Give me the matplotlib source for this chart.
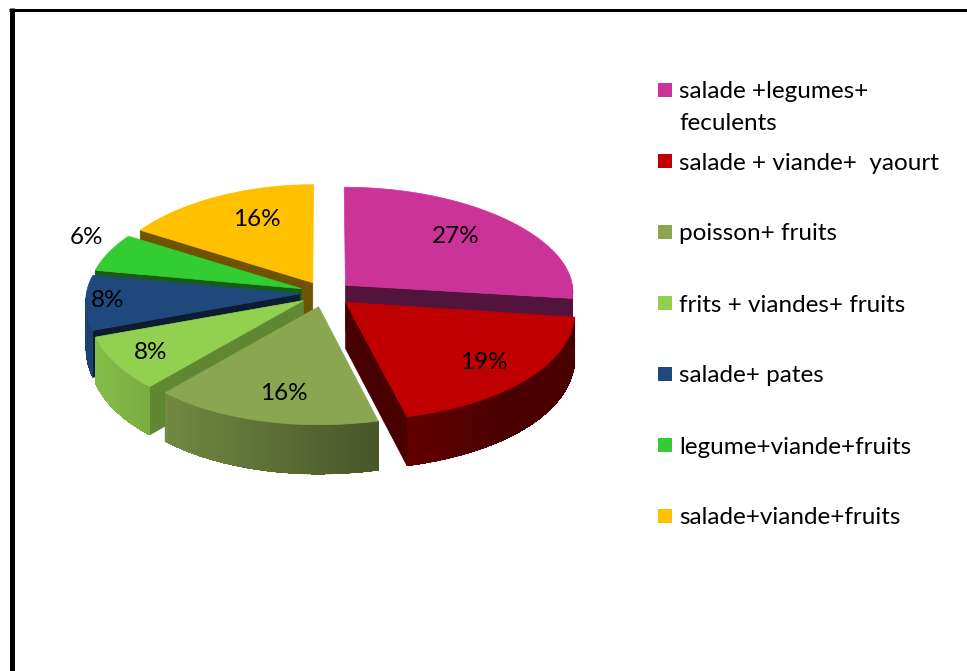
import numpy as np
import matplotlib.pyplot as plt
from matplotlib.patches import Polygon, Rectangle
from matplotlib.colors import to_rgb

# data
labels = ["salade +legumes+\nfeculents", "salade + viande+  yaourt", "poisson+ fruits",
          "frits + viandes+ fruits", "salade+ pates", "legume+viande+fruits",
          "salade+viande+fruits"]
values = [27, 19, 16, 8, 8, 6, 16]
pct_labels = ["27%", "19%", "16%", "8%", "8%", "6%", "16%"]
colors = ["#CC3399", "#C00000", "#8BA650", "#92D050", "#1F497D", "#33CC33", "#FFC000"]

# style / layout of the fake 3D pie (pixel units)
label_r = [0.68, 0.76, 0.72, 0.82, 0.9, 1.15, 0.7]
label_nudge = [(-2, -5), (3, 1), (6, 4), (0, 0), (0, 0), (6, -10), (12, -3)]
face_shade = [0.40, 0.38, 0.45, 0.65, 0.40, 0.45, 0.43]
CX, CY = 325, 293
RX_R, RX_L = 228, 213
RY_B, RY_F = 98, 118
PERSP = 0.06
EXPLODE = 0.12
FONT = "Lato"
FS = 17.5


def proj(X, Y, z=0.0):
    # rough perspective: front of the pie is a bit wider and taller
    X = np.asarray(X, float)
    Y = np.asarray(Y, float)
    rx = np.where(X >= 0, RX_R, RX_L) * (1 - PERSP * Y)
    ry = np.where(Y >= 0, RY_B, RY_F)
    sx = CX + rx * X
    sy = CY - ry * Y + z * (46 - 3 * Y)
    return sx, sy


def shade(c, f):
    return tuple(min(1, v * f) for v in to_rgb(c))


def wall_shade(t):
    return np.clip(0.60 - 0.33 * np.cos(t), 0.38, 0.9)


W, H = 967, 671
fig = plt.figure(figsize=(W / 100, H / 100), dpi=100)
ax = fig.add_axes([0, 0, 1, 1])
ax.set_xlim(0, W)
ax.set_ylim(H, 0)
ax.axis("off")

vals = np.array(values, float)
t0 = 90 - 360 * np.concatenate([[0], np.cumsum(vals)[:-1]]) / vals.sum()
t1 = t0 - 360 * vals / vals.sum()
mids = np.radians((t0 + t1) / 2)

# back slices first
order = np.argsort(-np.sin(mids))
for i in order:
    a0, a1 = np.radians(t0[i]), np.radians(t1[i])
    ox, oy = EXPLODE * np.cos(mids[i]), EXPLODE * np.sin(mids[i])
    th = np.linspace(a0, a1, max(int(abs(t1[i] - t0[i])) * 2, 4))
    X = ox + np.cos(th)
    Y = oy + np.sin(th)

    # radial cut faces
    for a, vis in [(a0, np.cos(a0) < -1e-6), (a1, np.cos(a1) > 1e-6)]:
        if not vis:
            continue
        px = [ox, ox + np.cos(a), ox + np.cos(a), ox]
        py = [oy, oy + np.sin(a), oy + np.sin(a), oy]
        zz = [0, 0, 1, 1]
        pts = [proj(px[k], py[k], zz[k]) for k in range(4)]
        c = shade(colors[i], face_shade[i])
        ax.add_patch(Polygon(pts, closed=True, facecolor=c, edgecolor=c, lw=0.5))

    # outer wall (front half only): smooth base, then shaded strips
    front = np.sin(th) <= 1e-9
    if front.sum() >= 2:
        fx, fy, ft = X[front], Y[front], th[front]
        tx, ty = proj(fx, fy)
        bx, by = proj(fx, fy, 1)
        pts = np.column_stack([np.concatenate([tx, bx[::-1]]),
                               np.concatenate([ty, by[::-1]])])
        c = shade(colors[i], wall_shade(ft).mean())
        ax.add_patch(Polygon(pts, closed=True, facecolor=c, edgecolor=c, lw=0.4))
        for k in range(len(ft) - 1):
            c = shade(colors[i], wall_shade((ft[k] + ft[k + 1]) / 2))
            q = [proj(fx[k], fy[k]), proj(fx[k + 1], fy[k + 1]),
                 proj(fx[k + 1], fy[k + 1], 1), proj(fx[k], fy[k], 1)]
            ax.add_patch(Polygon(q, closed=True, facecolor=c, edgecolor="none",
                                 lw=0, antialiased=False))

    # top face
    sx, sy = proj(np.concatenate([[ox], X]), np.concatenate([[oy], Y]))
    ax.add_patch(Polygon(np.column_stack([sx, sy]), closed=True,
                         facecolor=colors[i], edgecolor=colors[i], lw=0.5))

# percentage labels
for i in range(len(values)):
    ox, oy = EXPLODE * np.cos(mids[i]), EXPLODE * np.sin(mids[i])
    lx, ly = proj(ox + label_r[i] * np.cos(mids[i]), oy + label_r[i] * np.sin(mids[i]))
    ax.text(lx + label_nudge[i][0], ly + label_nudge[i][1], pct_labels[i],
            ha="center", va="center", fontsize=FS, family=FONT, color="black")

# legend
for i, lab in enumerate(labels):
    yc = 90 + i * 71
    ax.add_patch(Rectangle((658, yc - 7), 14, 14, facecolor=colors[i], edgecolor="none"))
    for j, line in enumerate(lab.split("\n")):
        ax.text(679, yc + 8.5 + j * 31, line, ha="left", va="baseline",
                fontsize=FS, family=FONT, color="black")

# frame
ax.plot([11.5, 11.5], [8, H], color="black", lw=5 * 0.72, solid_capstyle="butt")
ax.plot([9, W], [9.5, 9.5], color="black", lw=3 * 0.72, solid_capstyle="butt")

fig.savefig("out.png", dpi=100)
